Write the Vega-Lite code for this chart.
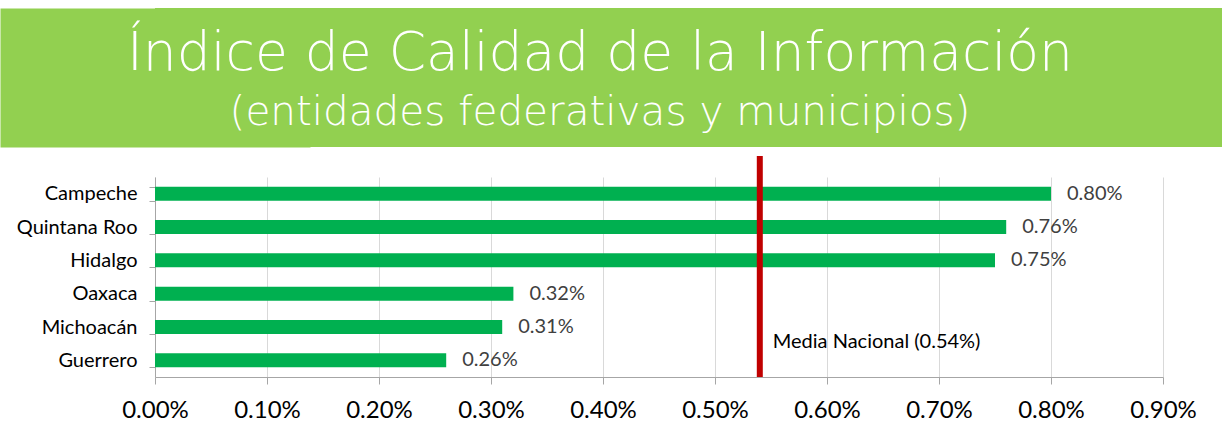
{
  "$schema": "https://vega.github.io/schema/vega-lite/v6.json",
  "padding": {"top": 8, "left": 0, "right": 0, "bottom": 0},
  "background": "white",
  "spacing": 6,
  "config": {"view": {"stroke": null}},
  "datasets": {
    "titulo": [
      {"linea": "1", "texto": "Índice de Calidad de la Información"},
      {"linea": "2", "texto": "(entidades federativas y municipios)"}
    ],
    "estados": [
      {"estado": "Campeche", "valor": 0.0080},
      {"estado": "Quintana Roo", "valor": 0.0076},
      {"estado": "Hidalgo", "valor": 0.0075},
      {"estado": "Oaxaca", "valor": 0.0032},
      {"estado": "Michoacán", "valor": 0.0031},
      {"estado": "Guerrero", "valor": 0.0026}
    ],
    "media": [
      {"nombre": "Media Nacional (0.54%)", "valor": 0.0054, "estado": "Michoacán"}
    ]
  },
  "vconcat": [
    {
      "width": 1067,
      "height": 139,
      "view": {"fill": "#92D050", "stroke": null},
      "data": {"name": "titulo"},
      "encoding": {
        "y": {
          "field": "linea",
          "type": "nominal",
          "scale": {"type": "point", "domain": ["1", "2"], "padding": 0.811},
          "axis": {
            "title": null,
            "labels": false,
            "ticks": false,
            "grid": false,
            "domain": true,
            "domainColor": "#92D050",
            "domainWidth": 310,
            "domainCap": "butt",
            "minExtent": 155,
            "maxExtent": 155
          }
        },
        "text": {"field": "texto"}
      },
      "layer": [
        {
          "transform": [{"filter": "datum.linea === '1'"}],
          "mark": {"type": "text", "color": "white", "font": "DejaVu Sans", "fontWeight": 200, "fontSize": 53.5, "baseline": "alphabetic", "dy": 19, "dx": -88.5}
        },
        {
          "transform": [{"filter": "datum.linea === '2'"}],
          "mark": {"type": "text", "color": "white", "font": "DejaVu Sans", "fontWeight": 200, "fontSize": 40.5, "baseline": "alphabetic", "dy": 21, "dx": -88.5}
        }
      ]
    },
    {
      "width": 1008,
      "height": 200,
      "encoding": {
        "x": {
          "field": "valor",
          "type": "quantitative",
          "scale": {"domain": [0, 0.009], "nice": false},
          "axis": {
            "title": null,
            "values": [0, 0.001, 0.002, 0.003, 0.004, 0.005, 0.006, 0.007, 0.008, 0.009],
            "format": ".2%",
            "labelFont": "Lato",
            "labelFontSize": 24,
            "labelColor": "black",
            "labelPadding": 14,
            "labelOverlap": false,
            "labelFlush": false,
            "tickSize": 7,
            "tickColor": "#A6A6A6",
            "domainColor": "#A6A6A6",
            "grid": true,
            "gridColor": "#D9D9D9"
          }
        }
      },
      "layer": [
        {
          "data": {"name": "estados"},
          "mark": {"type": "bar", "color": "#00B050"},
          "encoding": {
            "y": {
              "field": "estado",
              "type": "nominal",
              "sort": null,
              "scale": {"paddingInner": 0.58, "paddingOuter": 0.29},
              "axis": {
                "title": null,
                "labelFont": "Lato",
                "labelFontSize": 20,
                "labelColor": "black",
                "labelPadding": 12,
                "tickSize": 6,
                "tickBand": "extent",
                "tickColor": "#A6A6A6",
                "domainColor": "#A6A6A6",
                "minExtent": 155,
                "maxExtent": 155
              }
            }
          }
        },
        {
          "data": {"name": "estados"},
          "mark": {"type": "text", "align": "left", "baseline": "middle", "dx": 16, "font": "Lato", "fontSize": 20, "color": "#404040"},
          "encoding": {
            "y": {"field": "estado", "type": "nominal", "sort": null},
            "text": {"field": "valor", "type": "quantitative", "format": ".2%"}
          }
        },
        {
          "data": {"name": "media"},
          "mark": {"type": "rule", "color": "#C00000", "strokeWidth": 6, "yOffset": -21, "y2Offset": 12},
          "encoding": {}
        },
        {
          "data": {"name": "media"},
          "mark": {"type": "text", "align": "left", "baseline": "middle", "dx": 13, "dy": 15, "font": "Lato", "fontSize": 20, "color": "black"},
          "encoding": {
            "y": {"field": "estado", "type": "nominal", "sort": null},
            "text": {"field": "nombre"}
          }
        }
      ]
    }
  ]
}
